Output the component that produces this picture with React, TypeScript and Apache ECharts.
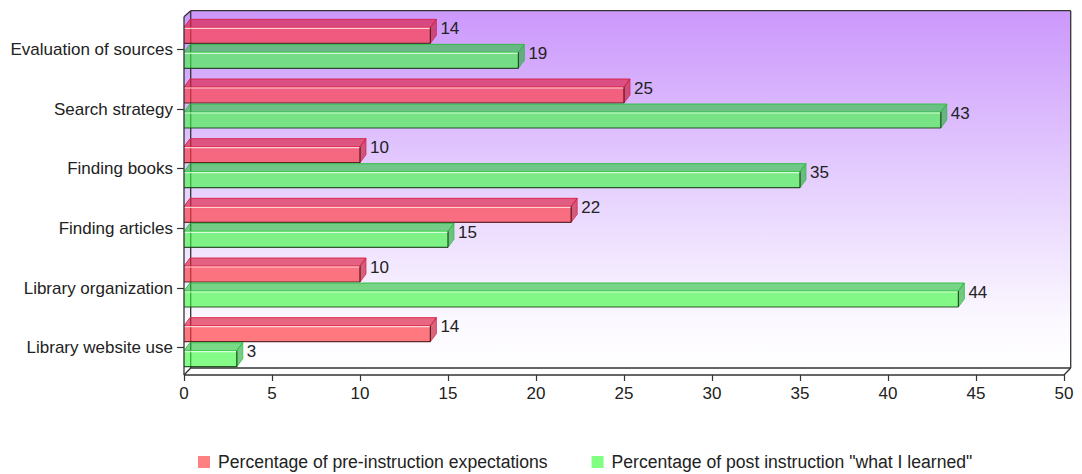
import React, { useEffect, useRef } from "react";
import * as echarts from "echarts";

const categories = [
  "Evaluation of sources",
  "Search strategy",
  "Finding books",
  "Finding articles",
  "Library organization",
  "Library website use",
];
const preValues = [14, 25, 10, 22, 10, 14];
const postValues = [19, 43, 35, 15, 44, 3];
const seriesNames = [
  "Percentage of pre-instruction expectations",
  'Percentage of post instruction "what I learned"',
];
const xTicks = { min: 0, max: 50, interval: 5 };

const FONT = "'Liberation Sans', Arial, sans-serif";
const DX = 6;
const DY = 8;

type Palette = { front: string; top: string; side: string; edge: string; topEdge: string };
const redPal: Palette = {
  front: "rgba(255,55,65,0.67)",
  top: "rgba(220,32,68,0.67)",
  side: "rgba(200,28,60,0.67)",
  edge: "rgba(70,20,20,0.85)",
  topEdge: "rgba(215,30,70,0.9)",
};
const greenPal: Palette = {
  front: "rgba(58,252,62,0.62)",
  top: "rgba(40,195,60,0.62)",
  side: "rgba(35,175,55,0.62)",
  edge: "rgba(20,60,20,0.85)",
  topEdge: "rgba(40,190,60,0.9)",
};

function makeRender(pal: Palette, frontTopOff: number, bottomOff: number) {
  return (params: any, api: any) => {
    const v = api.value(0);
    const idx = api.value(1);
    const p0 = api.coord([0, idx]);
    const p1 = api.coord([v, idx]);
    const x0 = p0[0];
    const x1 = p1[0];
    const yc = p0[1];
    const ft = yc + frontTopOff;
    const bt = yc + bottomOff;
    return {
      type: "group",
      children: [
        {
          type: "polygon",
          shape: { points: [[x0, ft], [x1, ft], [x1 + DX, ft - DY], [x0 + DX, ft - DY]] },
          style: { fill: pal.top, stroke: pal.topEdge, lineWidth: 1 },
        },
        {
          type: "polygon",
          shape: { points: [[x1, ft], [x1 + DX, ft - DY], [x1 + DX, bt - DY], [x1, bt]] },
          style: { fill: pal.side, stroke: pal.topEdge, lineWidth: 0.8 },
        },
        {
          type: "rect",
          shape: { x: x0, y: ft, width: x1 - x0, height: bt - ft },
          style: { fill: pal.front },
        },
        {
          type: "line",
          shape: { x1: x0, y1: ft + 1, x2: x1, y2: ft + 1 },
          style: { stroke: "rgba(255,255,255,0.7)", lineWidth: 1.2 },
        },
        {
          type: "line",
          shape: { x1: x0, y1: bt, x2: x1, y2: bt },
          style: { stroke: pal.edge, lineWidth: 1.2 },
        },
        {
          type: "line",
          shape: { x1: x1, y1: ft, x2: x1, y2: bt },
          style: { stroke: pal.edge, lineWidth: 1.2 },
        },
        {
          type: "text",
          x: x1 + DX + 4,
          y: ft + 1,
          style: {
            text: String(v),
            fill: "#222",
            fontSize: 17,
            fontFamily: FONT,
            verticalAlign: "middle",
            align: "left",
          },
        },
      ],
    };
  };
}

// frame geometry (decoration)
const FL = 184; // front left
const FR = 1064; // front right
const FB = 375; // front bottom
const BL = 190.7;
const BR = 1070.7;
const BT = 10.7;
const BB = 368;
const FT = 16.7;

export default function App() {
  const ref = useRef<HTMLDivElement>(null);
  useEffect(() => {
    if (!ref.current) return;
    const chart = echarts.init(ref.current, undefined, { renderer: "svg" });
    const lineStyle = { stroke: "#333", lineWidth: 1.3 };
    chart.setOption({
      animation: false,
      backgroundColor: "#ffffff",
      grid: { left: 184, top: 19.5, width: 880, height: 358, containLabel: false },
      xAxis: {
        type: "value",
        min: xTicks.min,
        max: xTicks.max,
        interval: xTicks.interval,
        offset: -2.5,
        axisLine: { show: false },
        axisTick: { show: true, length: 6, lineStyle: { color: "#333", width: 1.2 } },
        axisLabel: { margin: 10, fontSize: 17, color: "#222", fontFamily: FONT },
        splitLine: { show: false },
      },
      yAxis: {
        type: "category",
        data: categories,
        inverse: true,
        axisLine: { show: false },
        axisTick: { show: true, alignWithLabel: true, length: 7, lineStyle: { color: "#333", width: 1.2 } },
        axisLabel: { margin: 11, fontSize: 17, color: "#222", fontFamily: FONT },
        splitLine: { show: false },
      },
      legend: {
        left: 198,
        top: 453,
        padding: 0,
        icon: "rect",
        itemWidth: 12,
        itemHeight: 12,
        itemGap: 44,
        textStyle: { fontSize: 17.6, color: "#222", fontFamily: FONT, padding: [0, 0, 0, 3] },
        data: seriesNames,
      },
      graphic: [
        {
          type: "polygon",
          z: -10,
          silent: true,
          shape: {
            points: [[FL, FT], [BL, BT], [BR, BT], [BR, BB], [FR, FB], [FL, FB]],
          },
          style: {
            fill: new echarts.graphic.LinearGradient(0, 0, 0, 1, [
              { offset: 0, color: "#cc98fc" },
              { offset: 0.5, color: "#e7d3fe" },
              { offset: 0.85, color: "#fbf8ff" },
              { offset: 1, color: "#ffffff" },
            ]),
          },
        },
        { type: "line", z: -5, silent: true, shape: { x1: BL, y1: BT, x2: BR, y2: BT }, style: lineStyle },
        { type: "line", z: -5, silent: true, shape: { x1: BR, y1: BT, x2: BR, y2: BB }, style: lineStyle },
        { type: "line", z: -5, silent: true, shape: { x1: BL, y1: BT, x2: BL, y2: BB }, style: lineStyle },
        { type: "line", z: -5, silent: true, shape: { x1: BL, y1: BB, x2: BR, y2: BB }, style: lineStyle },
        { type: "line", z: 50, silent: true, shape: { x1: FL, y1: FT, x2: BL, y2: BT }, style: lineStyle },
        { type: "line", z: 50, silent: true, shape: { x1: FL, y1: FB, x2: BL, y2: BB }, style: lineStyle },
        { type: "line", z: 50, silent: true, shape: { x1: FR, y1: FB, x2: BR, y2: BB }, style: lineStyle },
        { type: "line", z: 50, silent: true, shape: { x1: FL, y1: FT, x2: FL, y2: FB }, style: lineStyle },
        { type: "line", z: 50, silent: true, shape: { x1: FL, y1: FB, x2: FR, y2: FB }, style: lineStyle },
      ],
      series: [
        {
          name: seriesNames[0],
          type: "custom",
          itemStyle: { color: "#ff8080" },
          encode: { x: 0, y: 1 },
          data: preValues.map((v, i) => [v, i]),
          renderItem: makeRender(redPal, -22, -6),
          z: 5,
        },
        {
          name: seriesNames[1],
          type: "custom",
          itemStyle: { color: "#80ff80" },
          encode: { x: 0, y: 1 },
          data: postValues.map((v, i) => [v, i]),
          renderItem: makeRender(greenPal, 3, 19),
          z: 5,
        },
      ],
    });
    return () => chart.dispose();
  }, []);
  return (
    <div
      ref={ref}
      style={{ position: "fixed", left: 0, top: 0, width: 1082, height: 474 }}
    />
  );
}
